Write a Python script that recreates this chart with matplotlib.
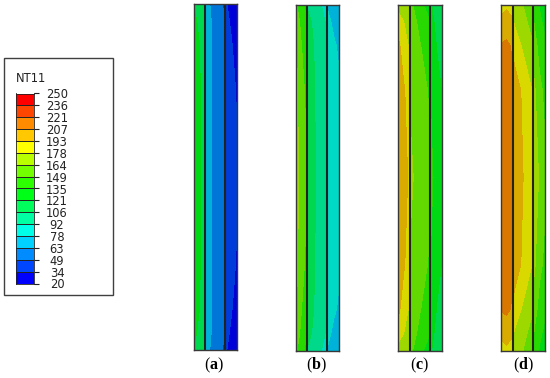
import numpy as np
import matplotlib
matplotlib.use('Agg')
import matplotlib.pyplot as plt
from matplotlib.colors import ListedColormap, BoundaryNorm
from matplotlib.patches import Rectangle

W, H = 550, 378

legend_title = 'NT11'
legend_labels = [250, 236, 221, 207, 193, 178, 164, 149, 135, 121, 106, 92, 78, 63, 49, 34, 20]
band_colors = ['#0000ff', '#0046ff', '#008bff', '#00d1ff', '#00ffe8', '#00ffa2', '#00ff5d', '#00ff17',
               '#2eff00', '#73ff00', '#b9ff00', '#ffff00', '#ffc800', '#ff8c00', '#ff4600', '#ff0000']
levels = np.linspace(20, 250, 17)

panel_names = ['a', 'b', 'c', 'd']

# across the panel (fraction of width) and down to the middle (fraction of height)
col_pos = [0, .13, .26, .285, .50, .72, .745, .88, 1]
row_pos = [0, .05, .12, .25, .50]

temps_a = [[120, 112, 105, 68, 56, 46, 36, 26, 20],
           [124, 118, 108, 70, 58, 49, 39, 31, 24],
           [126, 121, 110, 71, 57, 50, 41, 35, 28],
           [127, 123, 112, 72, 56, 50, 43, 38, 33],
           [128, 123, 114, 72, 56, 51, 46, 40, 36]]
temps_b = [[152, 140, 130, 104, 96, 86, 76, 72, 70],
           [158, 146, 135, 110, 100, 90, 80, 75, 72],
           [166, 150, 140, 113, 102, 92, 84, 79, 76],
           [170, 154, 146, 115, 103, 94, 88, 82, 79],
           [172, 156, 150, 116, 104, 96, 90, 84, 82]]
temps_c = [[172, 168, 164, 152, 140, 125, 122, 112, 108],
           [186, 178, 168, 155, 146, 136, 128, 114, 108],
           [196, 186, 176, 158, 150, 142, 132, 120, 114],
           [202, 194, 186, 162, 154, 148, 134, 126, 120],
           [204, 198, 190, 166, 158, 152, 138, 130, 126]]
temps_d = [[186, 190, 188, 172, 164, 150, 146, 134, 130],
           [196, 198, 194, 178, 170, 156, 150, 138, 132],
           [208, 210, 205, 188, 176, 166, 158, 144, 138],
           [215, 214, 211, 202, 190, 178, 168, 154, 146],
           [216, 214, 212, 204, 193, 180, 176, 162, 154]]
panel_temps = [temps_a, temps_b, temps_c, temps_d]

# panels in pixels: left, top, width, height
panel_boxes = [(193.5, 3.5, 43.5, 346), (295.5, 4.5, 43.5, 346.5), (398, 4.5, 44, 346), (501, 4.5, 43.5, 346)]
div_pos = [0.27, 0.73]
label_xs = [214, 316, 420, 523]
shade = 0.85


def px_axes(fig, x, y, w, h):
    return fig.add_axes([x / W, 1 - (y + h) / H, w / W, h / H])


plt.rcParams['font.family'] = ['DejaVu Sans']
plt.rcParams['mathtext.fontset'] = 'custom'
plt.rcParams['mathtext.rm'] = 'Liberation Serif'
plt.rcParams['mathtext.bf'] = 'Liberation Serif:bold'
fig = plt.figure(figsize=(W / 100, H / 100), dpi=100, facecolor='white')

rgb = np.array([matplotlib.colors.to_rgb(c) for c in band_colors])
cmap = ListedColormap(rgb * shade)
norm = BoundaryNorm(levels, cmap.N)

for temps, box, name, lx in zip(panel_temps, panel_boxes, panel_names, label_xs):
    ax = px_axes(fig, *box)
    half = np.array(temps, dtype=float)
    field = np.vstack([half, half[-2::-1]])
    ys = np.array(row_pos + [1 - r for r in row_pos[-2::-1]])
    ax.contourf(col_pos, ys, field, levels=levels, cmap=cmap, norm=norm, extend='both')
    ax.set_xlim(0, 1)
    ax.set_ylim(1, 0)
    ax.set_xticks([])
    ax.set_yticks([])
    for s in ax.spines.values():
        s.set_linewidth(1.0)
        s.set_color('#383838')
    for d in div_pos:
        ax.axvline(d, color='#222222', lw=1.5)
    fig.text(lx / W, 1 - 365 / H, '(' + r'$\mathbf{' + name + '}$' + ')', ha='center', va='center',
             family='Liberation Serif', fontsize=11.5, color='black')

# legend box
frame = fig.add_axes([0, 0, 1, 1], zorder=-1)
frame.set_xlim(0, W)
frame.set_ylim(H, 0)
frame.axis('off')
frame.add_patch(Rectangle((4, 57.5), 109, 237.5, fc='white', ec='#404040', lw=1))
frame.text(16, 78, legend_title, fontsize=8.3, va='center', ha='left', color='#222222')

cax = px_axes(fig, 16, 93.5, 18, 190)
cax.pcolormesh([0, 1], levels, np.array(levels[:-1])[:, None] + 1, cmap=ListedColormap(rgb), norm=norm)
cax.set_xlim(0, 1)
cax.set_ylim(20, 250)
cax.set_xticks([])
cax.yaxis.tick_right()
cax.set_yticks(levels)
cax.set_yticklabels([str(v) for v in legend_labels[::-1]], fontsize=8.3, color='#222222', ha='center')
cax.tick_params(axis='y', length=3.6, width=0.8, pad=13, color='#222222')
for s in cax.spines.values():
    s.set_linewidth(0.6)
    s.set_color('#222222')
for v in levels[1:-1]:
    cax.axhline(v, color='#222222', lw=0.7)

fig.savefig('out.png', dpi=100)
